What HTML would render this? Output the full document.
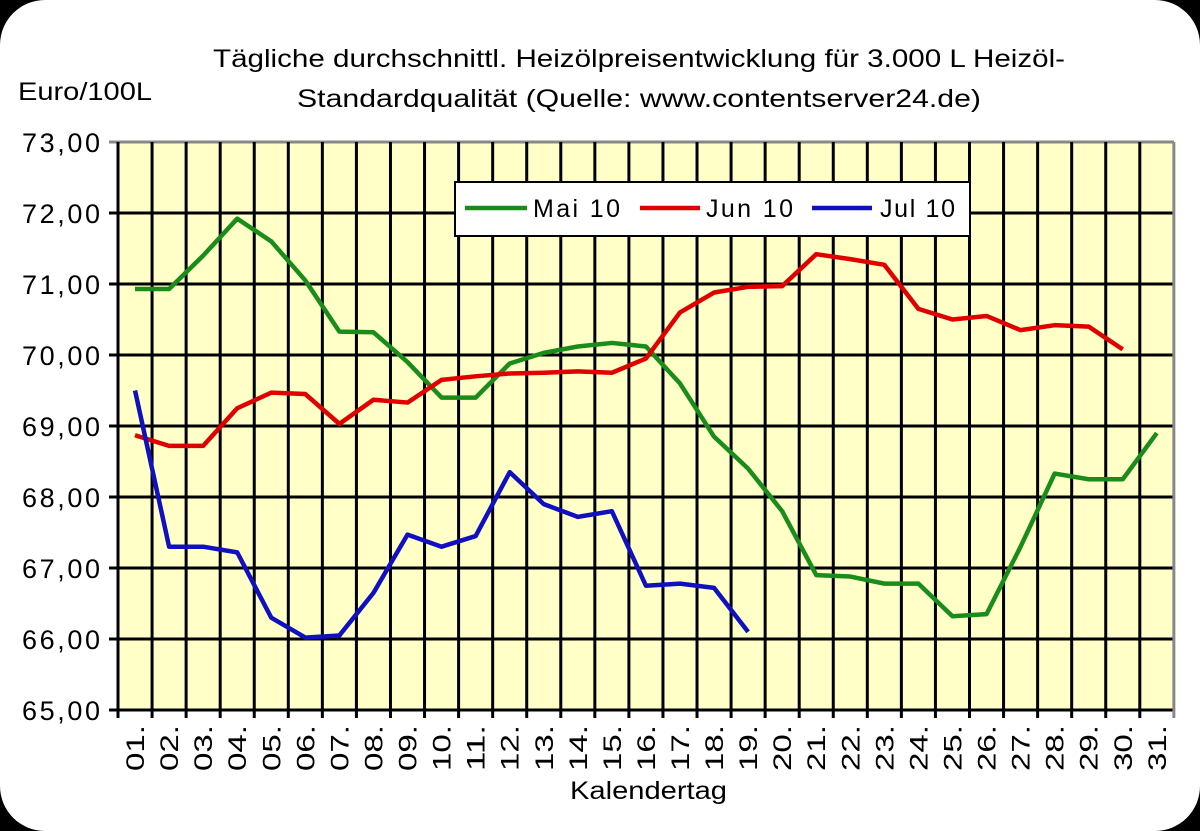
<!DOCTYPE html>
<html><head><style>
body{margin:0;background:#000;}
svg{display:block;font-family:"Liberation Sans",sans-serif;}
</style></head><body>
<svg width="1200" height="831" viewBox="0 0 1200 831">
<rect x="0" y="0" width="1200" height="831" rx="45" fill="#fff"/>
<text x="213" y="67" font-size="25" textLength="852" lengthAdjust="spacingAndGlyphs">Tägliche durchschnittl. Heizölpreisentwicklung für 3.000 L Heizöl-</text>
<text x="297" y="107" font-size="25" textLength="684" lengthAdjust="spacingAndGlyphs">Standardqualität (Quelle: www.contentserver24.de)</text>
<text x="18" y="100" font-size="25" textLength="134" lengthAdjust="spacingAndGlyphs">Euro/100L</text>
<rect x="118" y="142" width="1056" height="568" fill="#ffffc8"/>
<g stroke="#000" stroke-width="3">
<line x1="109" y1="142" x2="1174" y2="142" stroke="#888"/>
<line x1="109" y1="213" x2="1174" y2="213"/>
<line x1="109" y1="284" x2="1174" y2="284"/>
<line x1="109" y1="355" x2="1174" y2="355"/>
<line x1="109" y1="426" x2="1174" y2="426"/>
<line x1="109" y1="497" x2="1174" y2="497"/>
<line x1="109" y1="568" x2="1174" y2="568"/>
<line x1="109" y1="639" x2="1174" y2="639"/>
<line x1="109" y1="710" x2="1174" y2="710"/>
</g>
<g stroke="#000" stroke-width="3" id="vg"></g>
<g font-size="27" text-anchor="start" lengthAdjust="spacingAndGlyphs">
<text x="22" y="152" textLength="78">73,00</text><text x="22" y="223" textLength="78">72,00</text><text x="22" y="294" textLength="78">71,00</text>
<text x="22" y="365" textLength="78">70,00</text><text x="22" y="436" textLength="78">69,00</text><text x="22" y="507" textLength="78">68,00</text>
<text x="22" y="578" textLength="78">67,00</text><text x="22" y="649" textLength="78">66,00</text><text x="22" y="720" textLength="78">65,00</text>
</g>
<g id="xl" font-size="25"></g>
<text x="570" y="799" font-size="25" textLength="157" lengthAdjust="spacingAndGlyphs">Kalendertag</text>
<g fill="none" stroke-width="4.5" stroke-linejoin="round" transform="matrix(34.06 0 0 -71 100.97 5325)">
<polyline vector-effect="non-scaling-stroke" stroke="#1a8c1a" points="1,70.93 2,70.93 3,71.4 4,71.92 5,71.6 6,71.05 7,70.33 8,70.32 9,69.9 10,69.4 11,69.4 12,69.88 13,70.03 14,70.12 15,70.17 16,70.12 17,69.6 18,68.85 19,68.4 20,67.8 21,66.9 22,66.88 23,66.78 24,66.78 25,66.32 26,66.35 27,67.3 28,68.33 29,68.25 30,68.25 31,68.9"/>
<polyline vector-effect="non-scaling-stroke" stroke="#e00000" points="1,68.87 2,68.72 3,68.72 4,69.25 5,69.47 6,69.45 7,69.03 8,69.37 9,69.33 10,69.65 11,69.7 12,69.74 13,69.75 14,69.77 15,69.75 16,69.95 17,70.6 18,70.88 19,70.96 20,70.97 21,71.42 22,71.35 23,71.27 24,70.65 25,70.5 26,70.55 27,70.35 28,70.42 29,70.4 30,70.08"/>
<polyline vector-effect="non-scaling-stroke" stroke="#1010c0" points="1,69.5 2,67.3 3,67.3 4,67.22 5,66.3 6,66.02 7,66.05 8,66.65 9,67.47 10,67.3 11,67.45 12,68.35 13,67.9 14,67.72 15,67.8 16,66.75 17,66.78 18,66.72 19,66.1"/>
</g>
<rect x="455" y="182" width="515" height="54" fill="#fff" stroke="#000" stroke-width="2"/>
<g stroke-width="4.5">
<line x1="465" y1="208" x2="527" y2="208" stroke="#1a8c1a"/>
<line x1="640" y1="208" x2="700" y2="208" stroke="#e00000"/>
<line x1="812" y1="208" x2="872" y2="208" stroke="#1010c0"/>
</g>
<g font-size="25" lengthAdjust="spacingAndGlyphs"><text x="533" y="217" textLength="87">Mai 10</text><text x="706" y="217" textLength="87">Jun 10</text><text x="880" y="217" textLength="75">Jul 10</text></g>
<script>
var vg=document.getElementById('vg'),xl=document.getElementById('xl'),ns='http://www.w3.org/2000/svg';
for(var i=0;i<=31;i++){var x=118+34.06*i;var l=document.createElementNS(ns,'line');l.setAttribute('x1',x);l.setAttribute('x2',x);l.setAttribute('y1',142);l.setAttribute('y2',718);if(i==31)l.setAttribute('stroke','#888');vg.appendChild(l);}
for(var d=1;d<=31;d++){var cx=118+34.06*(d-0.5)+9;var t=document.createElementNS(ns,'text');t.setAttribute('transform','translate('+cx+',771) rotate(-90)');t.setAttribute('textLength','46');t.setAttribute('lengthAdjust','spacingAndGlyphs');t.textContent=(d<10?'0':'')+d+'.';xl.appendChild(t);}
</script>
</svg>
</body></html>
